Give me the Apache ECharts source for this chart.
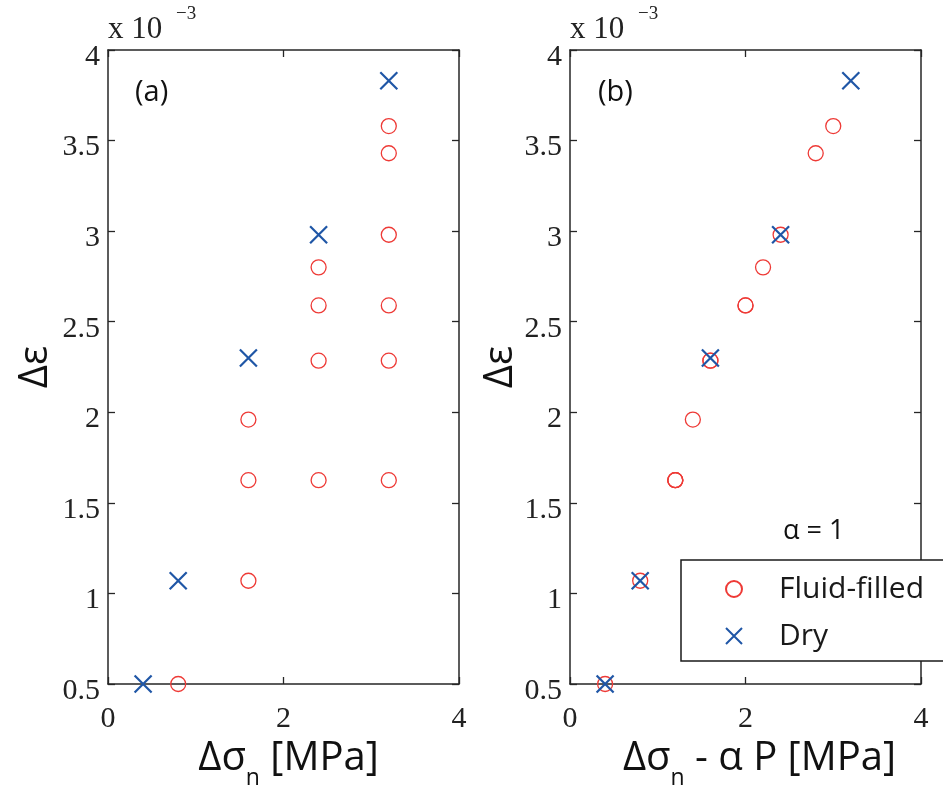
<!DOCTYPE html>
<html>
<head>
<meta charset="utf-8">
<script src="https://cdn.jsdelivr.net/npm/echarts@6/dist/echarts.min.js"></script>
<style>
html,body{margin:0;padding:0;background:#fff;}
#chart{width:943px;height:790px;}
</style>
</head>
<body>
<div id="chart"></div>
<script>
// Panel (a): x = Δσn [MPa], y = Δε (×10^-3)
const fluidA_x = [0.8, 1.6, 1.6, 1.6, 2.4, 2.4, 2.4, 2.4, 3.2, 3.2, 3.2, 3.2, 3.2, 3.2];
const fluid_y  = [0.5, 1.07, 1.625, 1.96, 1.625, 2.285, 2.59, 2.8, 1.625, 2.285, 2.59, 2.98, 3.43, 3.58];
// Panel (b): x = Δσn - αP [MPa]
const fluidB_x = [0.4, 0.8, 1.2, 1.4, 1.2, 1.6, 2.0, 2.2, 1.2, 1.6, 2.0, 2.4, 2.8, 3.0];
const dry_x = [0.4, 0.8, 1.6, 2.4, 3.2];
const dry_y = [0.5, 1.07, 2.3, 2.98, 3.83];
const xTicks = [0, 2, 4];
const yTicks = [0.5, 1, 1.5, 2, 2.5, 3, 3.5, 4];
const seriesNames = ['Fluid-filled', 'Dry'];
const panelLabels = ['(a)', '(b)'];

const RED = '#ee3a36';
const BLUE = '#1f56a6';
const AX = '#262626';
const SANS = '"Open Sans", "Liberation Sans", sans-serif';
const SERIF = '"Liberation Serif", "DejaVu Serif", serif';
const CROSS = 'path://M0,0L20,20M20,0L0,20';

function pairs(xs, ys) { return xs.map((x, i) => [x, ys[i]]); }

const grids = [
  {left: 108, top: 50, width: 351, height: 634, containLabel: false, outerBoundsMode: 'none'},
  {left: 570, top: 50, width: 351, height: 634, containLabel: false, outerBoundsMode: 'none'}
];

function xAxisMain(gi, name, padLeft) {
  return {
    type: 'value', gridIndex: gi, position: 'bottom',
    min: xTicks[0], max: xTicks[xTicks.length - 1], interval: xTicks[1] - xTicks[0],
    splitLine: {show: false},
    axisLine: {show: true, onZero: false, lineStyle: {color: AX, width: 1.5}},
    axisTick: {show: true, inside: true, length: 7, lineStyle: {color: AX, width: 1.3}},
    axisLabel: {show: true, margin: 20, fontFamily: SERIF, fontSize: 30, color: '#222'},
    name: name, nameLocation: 'middle', nameGap: 42,
    nameTextStyle: {
      padding: [0, 0, 0, padLeft],
      rich: {
        m: {fontFamily: SANS, fontSize: 40, color: '#111', lineHeight: 62, verticalAlign: 'middle'},
        s: {fontFamily: SANS, fontSize: 23, color: '#111', lineHeight: 16, verticalAlign: 'bottom'}
      }
    }
  };
}
function xAxisTop(gi) {
  return {
    type: 'value', gridIndex: gi, position: 'top',
    min: xTicks[0], max: xTicks[xTicks.length - 1], interval: xTicks[1] - xTicks[0],
    splitLine: {show: false},
    axisLine: {show: true, onZero: false, lineStyle: {color: AX, width: 1.5}},
    axisTick: {show: true, inside: true, length: 7, lineStyle: {color: AX, width: 1.3}},
    axisLabel: {show: false}
  };
}
function yAxisMain(gi, gap) {
  return {
    type: 'value', gridIndex: gi, position: 'left',
    min: yTicks[0], max: yTicks[yTicks.length - 1], interval: yTicks[1] - yTicks[0],
    splitLine: {show: false},
    axisLine: {show: true, onZero: false, lineStyle: {color: AX, width: 1.5}},
    axisTick: {show: true, inside: true, length: 7, lineStyle: {color: AX, width: 1.3}},
    axisLabel: {show: true, margin: 8, fontFamily: SERIF, fontSize: 30, color: '#222',
                verticalAlign: 'top', lineHeight: 14},
    name: 'Δε', nameLocation: 'middle', nameGap: gap, nameRotate: 90,
    nameTextStyle: {fontFamily: SANS, fontSize: 40, color: '#111', lineHeight: 40}
  };
}
function yAxisRight(gi) {
  return {
    type: 'value', gridIndex: gi, position: 'right',
    min: yTicks[0], max: yTicks[yTicks.length - 1], interval: yTicks[1] - yTicks[0],
    splitLine: {show: false},
    axisLine: {show: true, onZero: false, lineStyle: {color: AX, width: 1.5}},
    axisTick: {show: true, inside: true, length: 7, lineStyle: {color: AX, width: 1.3}},
    axisLabel: {show: false}
  };
}

function fluidSeries(xi, yi, xs) {
  return {
    name: seriesNames[0], type: 'scatter', xAxisIndex: xi, yAxisIndex: yi,
    data: pairs(xs, fluid_y), symbol: 'circle', symbolSize: 15, clip: false,
    itemStyle: {color: 'rgba(0,0,0,0)', borderColor: RED, borderWidth: 1.3, opacity: 1},
    emphasis: {disabled: true}
  };
}
function drySeries(xi, yi) {
  return {
    name: seriesNames[1], type: 'scatter', xAxisIndex: xi, yAxisIndex: yi,
    data: pairs(dry_x, dry_y), symbol: CROSS, symbolSize: 17, clip: false,
    itemStyle: {color: 'rgba(0,0,0,0)', borderColor: BLUE, borderWidth: 2.2, opacity: 1},
    emphasis: {disabled: true}
  };
}

const option = {
  animation: false,
  backgroundColor: '#fff',
  grid: grids,
  xAxis: [
    xAxisMain(0, '{m|Δσ}{s|n}{m| [MPa]}', 10), xAxisTop(0),
    xAxisMain(1, '{m|Δσ}{s|n}{m| - α P [MPa]}', 28), xAxisTop(1)
  ],
  yAxis: [yAxisMain(0, 52), yAxisRight(0), yAxisMain(1, 48), yAxisRight(1)],
  legend: {
    data: [
      {name: seriesNames[0], icon: 'circle'},
      {name: seriesNames[1], icon: CROSS}
    ],
    orient: 'vertical', left: 681, top: 560,
    itemWidth: 16, itemHeight: 16, itemGap: 17,
    padding: [14, 30, 10, 44],
    backgroundColor: '#fff', borderColor: '#1a1a1a', borderWidth: 1.5,
    textStyle: {fontFamily: SANS, fontSize: 30, color: '#1a1a1a', lineHeight: 30, padding: [0, 0, 0, 32]},
    selectedMode: false
  },
  series: [
    fluidSeries(0, 0, fluidA_x), drySeries(0, 0),
    fluidSeries(2, 2, fluidB_x), drySeries(2, 2)
  ],
  graphic: [
    {type: 'text', left: 135, top: 78, style: {text: panelLabels[0], font: '29px ' + SANS, fill: '#111'}},
    {type: 'text', left: 598, top: 78, style: {text: panelLabels[1], font: '29px ' + SANS, fill: '#111'}},
    {type: 'text', x: 108, y: 30, style: {text: 'x 10', font: '31px ' + SERIF, fill: '#222', verticalAlign: 'middle'}},
    {type: 'text', x: 176, y: 14, style: {text: '−3', font: '19px ' + SERIF, fill: '#222', verticalAlign: 'middle'}},
    {type: 'text', x: 570, y: 30, style: {text: 'x 10', font: '31px ' + SERIF, fill: '#222', verticalAlign: 'middle'}},
    {type: 'text', x: 638, y: 14, style: {text: '−3', font: '19px ' + SERIF, fill: '#222', verticalAlign: 'middle'}},
    {type: 'text', x: 783, y: 531, style: {text: 'α = 1', font: '27px ' + SANS, fill: '#111', verticalAlign: 'middle'}}
  ]
};

const chart = echarts.init(document.getElementById('chart'), null, {renderer: 'canvas'});
chart.setOption(option);
</script>
</body>
</html>
